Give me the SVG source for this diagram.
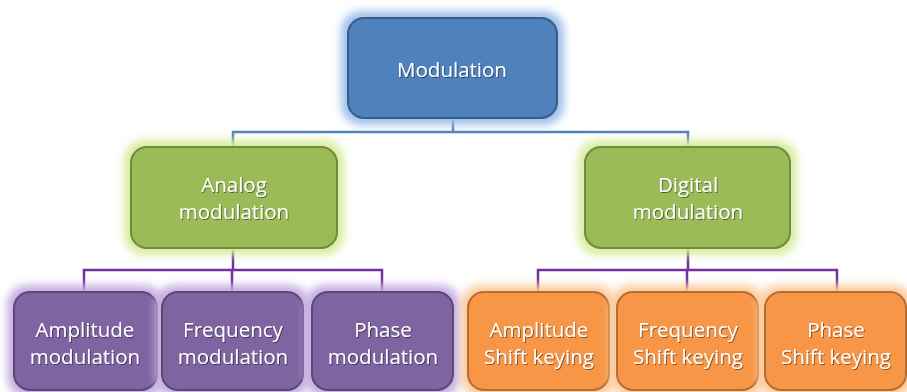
<svg xmlns="http://www.w3.org/2000/svg" width="907" height="392" viewBox="0 0 907 392">
<defs>
<filter id="glow" x="-20%" y="-30%" width="140%" height="160%"><feGaussianBlur stdDeviation="4.5"/></filter>
<filter id="ts" x="-10%" y="-20%" width="120%" height="140%"><feDropShadow dx="1" dy="1" stdDeviation="0.6" flood-color="#000" flood-opacity="0.45"/></filter>
<style>
.t{font-family:"Open Sans","Liberation Sans",sans-serif;font-size:20.5px;fill:#fff;text-anchor:middle;filter:url(#ts)}
.blue{fill:#4F81BD;stroke:#385D8A;stroke-width:2}
.green{fill:#9BBB59;stroke:#71893F;stroke-width:2}
.purple{fill:#8064A2;stroke:#5C4776;stroke-width:2}
.orange{fill:#F79646;stroke:#B66D31;stroke-width:2}
.gb{fill:#A0C0EA}
.gg{fill:#D8EC9E}
.gp{fill:#C4AEE0}
.go{fill:#FCCB9C}
.cb{fill:none;stroke:#4F81BD;stroke-width:2.5}
.cp{fill:none;stroke:#7030A0;stroke-width:2.5}
</style>
</defs>
<g id="connectors">
<path class="cb" d="M453 118 V132 M233 147 V132 H688 V147"/>
<path class="cp" d="M233 248 V270 M84 292 V270 H382 V292 M232 270 V292"/>
<path class="cp" d="M688 248 V270 M538 292 V270 H837 V292 M687 270 V292"/>
</g>
<g id="modulation">
<rect class="gb" x="341" y="11" width="223" height="114" rx="20" filter="url(#glow)"/>
<rect class="blue" x="348" y="18" width="209" height="100" rx="16"/>
<text class="t" x="452" y="77">Modulation</text>
</g>
<g id="analog">
<rect class="gg" x="124" y="140" width="220" height="115" rx="20" filter="url(#glow)"/>
<rect class="green" x="131" y="147" width="206" height="101" rx="16"/>
<text class="t" x="234" y="192">Analog</text>
<text class="t" x="234" y="219">modulation</text>
</g>
<g id="digital">
<rect class="gg" x="578" y="140" width="219" height="115" rx="20" filter="url(#glow)"/>
<rect class="green" x="585" y="147" width="205" height="101" rx="16"/>
<text class="t" x="688" y="192">Digital</text>
<text class="t" x="688" y="219">modulation</text>
</g>
<g id="am">
<rect class="gp" x="7" y="285" width="157" height="112" rx="20" filter="url(#glow)"/>
<rect class="purple" x="14" y="292" width="143" height="98" rx="16"/>
<text class="t" x="85" y="337">Amplitude</text>
<text class="t" x="85" y="364">modulation</text>
</g>
<g id="fm">
<rect class="gp" x="155" y="285" width="155" height="112" rx="20" filter="url(#glow)"/>
<rect class="purple" x="162" y="292" width="141" height="98" rx="16"/>
<text class="t" x="233" y="337">Frequency</text>
<text class="t" x="233" y="364">modulation</text>
</g>
<g id="pm">
<rect class="gp" x="305" y="285" width="155" height="112" rx="20" filter="url(#glow)"/>
<rect class="purple" x="312" y="292" width="141" height="98" rx="16"/>
<text class="t" x="383" y="337">Phase</text>
<text class="t" x="383" y="364">modulation</text>
</g>
<g id="ask">
<rect class="go" x="461" y="285" width="155" height="112" rx="20" filter="url(#glow)"/>
<rect class="orange" x="468" y="292" width="141" height="98" rx="16"/>
<text class="t" x="539" y="337">Amplitude</text>
<text class="t" x="539" y="364">Shift keying</text>
</g>
<g id="fsk">
<rect class="go" x="610" y="285" width="155" height="112" rx="20" filter="url(#glow)"/>
<rect class="orange" x="617" y="292" width="141" height="98" rx="16"/>
<text class="t" x="688" y="337">Frequency</text>
<text class="t" x="688" y="364">Shift keying</text>
</g>
<g id="psk">
<rect class="go" x="758" y="285" width="155" height="112" rx="20" filter="url(#glow)"/>
<rect class="orange" x="765" y="292" width="141" height="98" rx="16"/>
<text class="t" x="836" y="337">Phase</text>
<text class="t" x="836" y="364">Shift keying</text>
</g>
</svg>
